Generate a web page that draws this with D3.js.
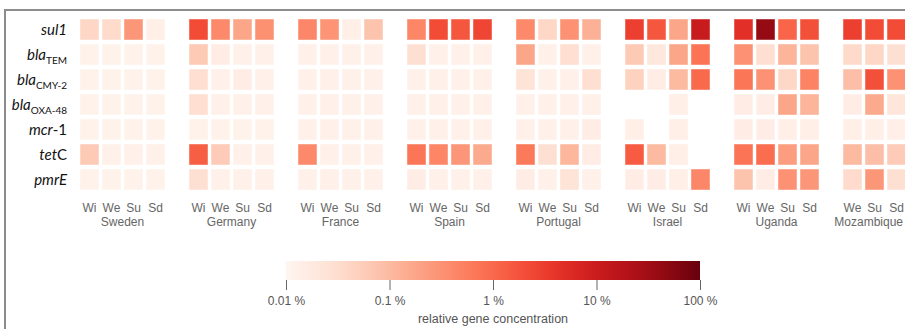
<!DOCTYPE html>
<html>
<head>
<meta charset="utf-8">
<script src="https://cdn.jsdelivr.net/npm/d3@7"></script>
<style>
  body { margin: 0; background: #fff; }
  svg { display: block; }
</style>
</head>
<body>
<div id="chart"></div>
<script>
// sampling sites, each with the seasons that were sampled
const countries = ['Sweden', 'Germany', 'France', 'Spain', 'Portugal', 'Israel', 'Uganda', 'Mozambique'];
const seasons = [
  ['Wi', 'We', 'Su', 'Sd'],
  ['Wi', 'We', 'Su', 'Sd'],
  ['Wi', 'We', 'Su', 'Sd'],
  ['Wi', 'We', 'Su', 'Sd'],
  ['Wi', 'We', 'Su', 'Sd'],
  ['Wi', 'We', 'Su', 'Sd'],
  ['Wi', 'We', 'Su', 'Sd'],
  ['We', 'Su', 'Sd']
];

const genes = ['sul1', 'blaTEM', 'blaCMY-2', 'blaOXA-48', 'mcr-1', 'tetC', 'pmrE'];
// label pieces: italic part, subscript, upright suffix
const geneLabels = [
  ['sul1', '', ''],
  ['bla', 'TEM', ''],
  ['bla', 'CMY-2', ''],
  ['bla', 'OXA-48', ''],
  ['mcr', '', '-1'],
  ['tet', '', 'C'],
  ['pmrE', '', '']
];

// relative gene concentration (%) per column, country by country (null = not detected)
const sul1 = [0.04, 0.035, 0.28, 0.014,  2.1, 0.4, 0.18, 0.33,  0.43, 0.3, 0.014, 0.075,  0.45, 2.1, 1.6, 2.5,
  0.4, 0.04, 0.32, 0.13,  3, 1.6, 0.18, 11,  4.6, 40, 1.1, 1.9,  3, 2.1, 2.1];
const blaTEM = [0.012, 0.012, 0.012, 0.012,  0.063, 0.016, 0.013, 0.013,  0.013, 0.013, 0.013, 0.013,  0.028, 0.013, 0.013, 0.013,
  0.18, 0.013, 0.03, 0.013,  0.063, 0.02, 0.18, 0.75,  0.32, 0.03, 0.12, 0.075,  0.036, 0.04, 0.028];
const blaCMY2 = [0.012, 0.012, 0.012, 0.012,  0.03, 0.013, 0.016, 0.013,  0.013, 0.013, 0.013, 0.013,  0.013, 0.013, 0.013, 0.013,
  0.025, 0.013, 0.013, 0.03,  0.048, 0.016, 0.1, 1,  0.7, 0.32, 0.04, 0.48,  0.09, 1.9, 0.32];
const blaOXA48 = [0.012, 0.012, 0.012, 0.012,  0.03, 0.013, 0.013, 0.013,  0.013, 0.013, 0.013, 0.013,  0.013, 0.013, 0.013, 0.013,
  0.013, 0.013, 0.013, 0.013,  null, null, 0.014, null,  0.015, 0.015, 0.18, 0.12,  0.015, 0.16, 0.022];
const mcr1 = [0.012, 0.012, 0.012, 0.012,  0.012, 0.012, 0.012, 0.012,  0.013, 0.013, 0.013, 0.013,  0.013, 0.013, 0.013, 0.013,
  0.013, 0.013, 0.013, 0.016,  0.014, null, 0.014, null,  0.015, 0.015, 0.014, 0.014,  0.014, 0.014, 0.014];
const tetC = [0.063, 0.013, 0.013, 0.013,  1.3, 0.06, 0.013, 0.013,  0.4, 0.013, 0.013, 0.013,  0.7, 0.45, 0.28, 0.16,
  0.63, 0.028, 0.11, 0.016,  1.4, 0.1, 0.014, null,  0.75, 0.9, 0.23, 0.18,  0.1, 0.09, 0.06];
const pmrE = [0.012, 0.012, 0.012, 0.012,  0.028, 0.013, 0.013, 0.013,  0.013, 0.013, 0.013, 0.013,  0.016, 0.013, 0.013, 0.013,
  0.016, 0.013, 0.025, 0.013,  0.015, 0.015, 0.014, 0.43,  0.075, 0.015, 0.32, 0.28,  0.034, 0.28, 0.028];

const legendTicks = [0.01, 0.1, 1, 10, 100];

const width = 905, height = 329;
const rows = [sul1, blaTEM, blaCMY2, blaOXA48, mcr1, tetC, pmrE];

const svg = d3.select('#chart').append('svg')
  .attr('width', width)
  .attr('height', height);

// frame of the original figure panel
svg.append('path')
  .attr('d', 'M5,' + height + 'V10H' + width)
  .attr('fill', 'none')
  .attr('stroke', '#8c8c8c')
  .attr('stroke-width', 2);

const color = d3.scaleSequentialLog(d3.interpolateReds).domain([0.01, 100]);

const xCountry = d3.scaleBand()
  .domain(countries)
  .range([80, 80 + countries.length * 109]);

const y = d3.scaleBand()
  .domain(genes)
  .range([19, 19 + genes.length * 25 - 4])
  .paddingInner(4 / 25);

// flatten columns
const cells = [];
const columns = [];
let col = 0;
countries.forEach((c, ci) => {
  const s = seasons[ci];
  const xs = d3.scaleBand().domain(s).range([0, s.length * 22 - 3]).paddingInner(3 / 22);
  s.forEach(season => {
    const x0 = xCountry(c) + xs(season);
    columns.push({ country: c, season: season, x: x0, w: xs.bandwidth() });
    genes.forEach((g, gi) => {
      const v = rows[gi][col];
      if (v != null) cells.push({ gene: g, x: x0, w: xs.bandwidth(), value: v });
    });
    col++;
  });
});

svg.append('g').selectAll('rect')
  .data(cells)
  .enter()
  .append('rect')
  .attr('x', d => d.x)
  .attr('y', d => y(d.gene))
  .attr('width', d => d.w)
  .attr('height', y.bandwidth())
  .attr('fill', d => color(d.value))
  .attr('stroke', 'rgba(255,255,255,0.45)')
  .attr('stroke-width', 1);

// gene labels
const rowLab = svg.append('g')
  .attr('font-family', 'Lato, "Open Sans", sans-serif')
  .attr('font-size', 15)
  .attr('fill', '#111');

rowLab.selectAll('text')
  .data(genes)
  .enter()
  .append('text')
  .attr('x', 67)
  .attr('y', d => y(d) + y.bandwidth() / 2 + 5)
  .attr('text-anchor', 'end')
  .each(function (d, i) {
    const p = geneLabels[i];
    const t = d3.select(this);
    t.append('tspan').attr('font-style', 'italic').text(p[0]);
    if (p[1]) {
      t.append('tspan').attr('font-size', 10).attr('dy', 4).text(p[1]);
    }
    if (p[2]) {
      t.append('tspan').text(p[2]);
    }
  });

// season and country labels
const colLab = svg.append('g')
  .attr('font-family', '"Liberation Sans", Arial, sans-serif')
  .attr('fill', '#666')
  .attr('text-anchor', 'middle');

colLab.selectAll('text.season')
  .data(columns)
  .enter()
  .append('text')
  .attr('class', 'season')
  .attr('x', d => d.x + d.w / 2)
  .attr('y', 212)
  .attr('font-size', 12)
  .text(d => d.season);

colLab.selectAll('text.country')
  .data(countries)
  .enter()
  .append('text')
  .attr('class', 'country')
  .attr('x', (d, i) => xCountry(d) + (seasons[i].length * 22 - 3) / 2)
  .attr('y', 226)
  .attr('font-size', 12)
  .text(d => d)
  .each(function () {
    // keep the last label inside the picture
    const w = this.getComputedTextLength();
    const cx = +this.getAttribute('x');
    if (cx + w / 2 > width - 2) this.setAttribute('x', width - 2 - w / 2);
  });

// colour legend
const lx = d3.scaleLog().domain([0.01, 100]).range([286, 700]);
const defs = svg.append('defs');
const grad = defs.append('linearGradient').attr('id', 'legend-grad');
d3.range(0, 1.0001, 0.05).forEach(t => {
  grad.append('stop')
    .attr('offset', (t * 100) + '%')
    .attr('stop-color', d3.interpolateReds(t));
});

svg.append('rect')
  .attr('x', lx.range()[0])
  .attr('y', 261)
  .attr('width', lx.range()[1] - lx.range()[0])
  .attr('height', 19)
  .attr('fill', 'url(#legend-grad)');

const axis = svg.append('g')
  .attr('transform', 'translate(0,280)')
  .call(d3.axisBottom(lx)
    .tickValues(legendTicks)
    .tickSize(10)
    .tickPadding(6)
    .tickFormat(d => d + ' %'));

axis.select('.domain').remove();
axis.selectAll('line').attr('stroke', '#666');
axis.selectAll('text')
  .attr('fill', '#555')
  .attr('font-size', 12)
  .attr('font-family', '"Liberation Sans", Arial, sans-serif');

svg.append('text')
  .attr('x', (lx.range()[0] + lx.range()[1]) / 2)
  .attr('y', 323)
  .attr('text-anchor', 'middle')
  .attr('font-family', '"Liberation Sans", Arial, sans-serif')
  .attr('font-size', 12.5)
  .attr('fill', '#555')
  .text('relative gene concentration');
</script>
</body>
</html>
